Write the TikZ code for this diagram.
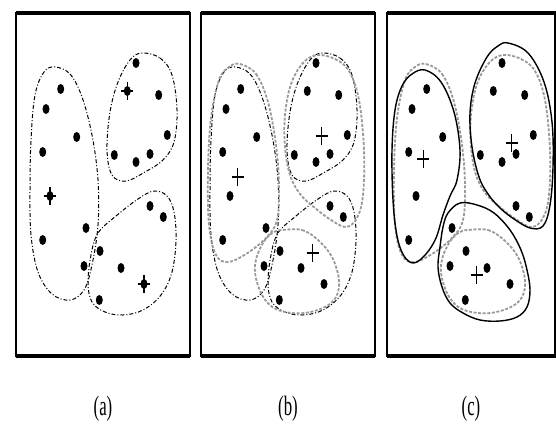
\documentclass[tikz,border=0pt]{standalone}
\usepackage{fontspec}
\setmainfont{Liberation Serif}
\usetikzlibrary{positioning}

\newcommand{\sampledots}{%
  \foreach \p in {(240.7,89),(226,109),(256.7,137),(222.7,152),(230,196),(266,228),(222.7,240),
                  (280,251),(264,266),(301,268),(324,284),(279.3,300),(330,206),(343.3,217),
                  (316,63),(307.3,91),(338.7,95),(347.3,135),(294.3,155),(316,162),(330,154)}
    {\fill \p ellipse [x radius=3.5, y radius=5];}}
\newcommand{\centremarks}[1]{%
  \foreach \p in {#1}
    {\draw[centre] \p +(-6,0) -- +(6,0) \p +(0,-9) -- +(0,9);}}
\newcommand{\dashdotclusters}{%
  \draw[oldpart] plot[smooth cycle, tension=0.6] coordinates {(235,67) (250,74) (262,97) (272,135) (278,180) (278,225) (272,265) (264,290) (250,300) (232,294) (218,272) (211,235) (210,190) (211,140) (215,95) (224,72)};
  \draw[oldpart] plot[smooth cycle, tension=0.6] coordinates {(322,53) (340,58) (352,75) (357,110) (354,142) (343,160) (325,172) (306,181) (292,175) (287,150) (290,112) (298,82) (310,60)};
  \draw[oldpart] plot[smooth cycle, tension=0.6] coordinates {(278,233) (296,216) (318,199) (334,191) (347,196) (354,212) (356,240) (352,272) (341,295) (323,310) (303,315) (285,312) (272,302) (268,283) (271,255)};}
\newcommand{\grayclusters}{%
  \draw[midpart] plot[smooth cycle, tension=0.6] coordinates {(240,64) (256,74) (268,102) (276,145) (279,185) (277,220) (266,238) (246,254) (228,262) (216,255) (209,225) (208,170) (211,118) (219,80) (229,67)};
  \draw[midpart] plot[smooth cycle, tension=0.6] coordinates {(317,55) (335,59) (349,71) (359,100) (364,150) (363,195) (357,218) (346,227) (331,220) (315,208) (300,194) (290,175) (285,147) (285,115) (291,84) (303,63)};
  \draw[midpart] plot[smooth cycle, tension=0.6] coordinates {(282,230) (302,230) (318,240) (332,257) (339,280) (336,297) (325,307) (305,313) (285,312) (271,306) (261,293) (255,273) (257,256) (265,240) (274,232)};}

\begin{document}
\begin{tikzpicture}[x=1pt, y=-1pt,
    panel/.style={line width=1.6pt},
    rim/.style={line width=3.2pt},
    oldpart/.style={line width=1pt, dash pattern=on 4pt off 2pt on 1pt off 2pt},
    midpart/.style={line width=1.8pt, black!40, dash pattern=on 3pt off 1.6pt},
    newpart/.style={line width=1.4pt},
    centre/.style={line width=1.1pt},
    caption/.style={font=\fontsize{28}{28}\selectfont, inner sep=0pt}]
  \useasboundingbox (0,0) rectangle (556,425);

  % panel frames
  \draw[panel] (16,13) rectangle (190,356);
  \draw[rim] (16,13) -- (190,13) (16,356) -- (190,356);
  \draw[panel] (201,13) rectangle (375,356);
  \draw[rim] (201,13) -- (375,13) (201,356) -- (375,356);
  \draw[panel] (387,13) rectangle (555,356);
  \draw[rim] (387,13) -- (556,13) (387,356) -- (556,356);

  % (a)
  \begin{scope}[shift={(-180,0)}]
    \dashdotclusters
    \sampledots
    \centremarks{(230,196),(307.3,91),(324,284)}
  \end{scope}

  % (b)
  \dashdotclusters
  \grayclusters
  \sampledots
  \centremarks{(237.7,177),(321.7,136),(312.7,253)}

  % (c)
  \begin{scope}[shift={(186,0)}]
    \grayclusters
    \sampledots
    \centremarks{(237.3,159),(325.7,143),(290.7,275)}
  \end{scope}
  \draw[newpart] plot[smooth cycle, tension=0.6] coordinates {(425,70) (441,82) (454,112) (460,150) (457,180) (450,196) (443,215) (436,238) (426,254) (414,263) (404,256) (397,236) (393,200) (392,150) (395,110) (402,86) (412,74)};
  \draw[newpart] plot[smooth cycle, tension=0.6] coordinates {(508,43) (528,53) (544,82) (552,122) (553,167) (550,205) (543,226) (530,228) (514,219) (500,208) (488,194) (479,177) (472,147) (470,113) (475,83) (487,57) (498,46)};
  \draw[newpart] plot[smooth cycle, tension=0.6] coordinates {(460,203) (477,205) (494,213) (510,230) (521,250) (527,270) (530,290) (527,307) (517,317) (500,321) (480,320) (463,313) (450,303) (442,287) (438,267) (440,247) (443,227) (448,213)};

  \node[caption] (capa) at (103,409) {\scalebox{0.6}[1]{(a)}};
  \node[caption] (capb) at (288,409) {\scalebox{0.6}[1]{(b)}};
  \node[caption] (capc) at (471,409) {\scalebox{0.6}[1]{(c)}};
\end{tikzpicture}
\end{document}
